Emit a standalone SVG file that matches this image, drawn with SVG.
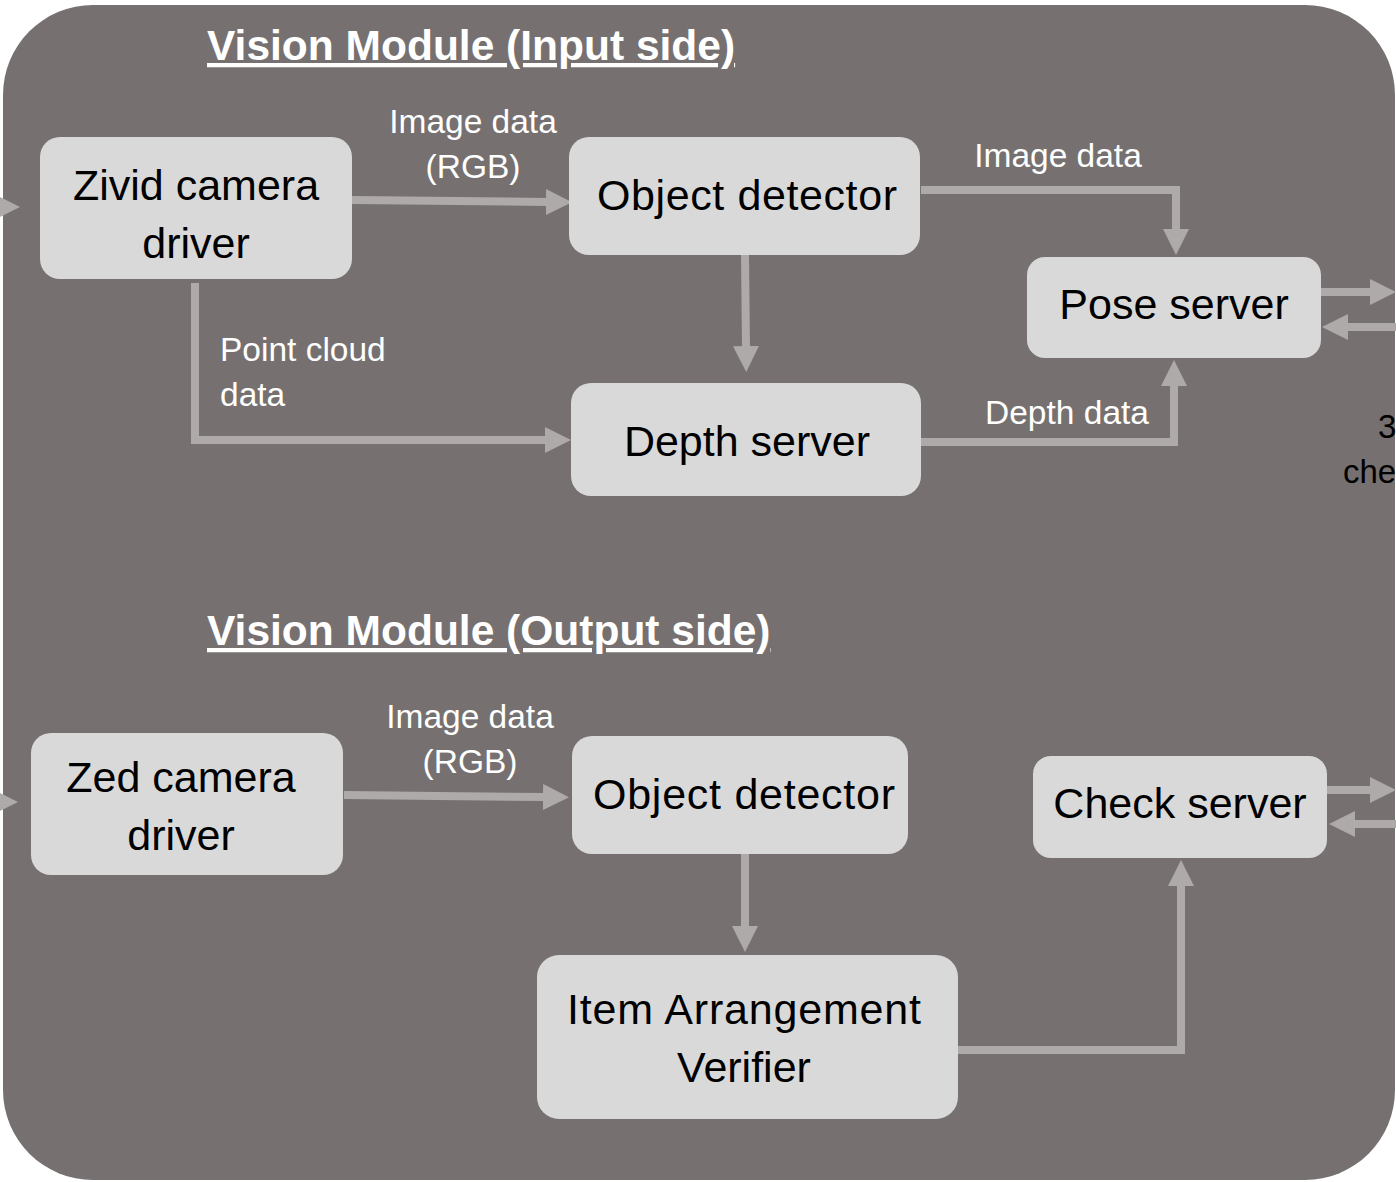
<svg xmlns="http://www.w3.org/2000/svg" width="1396" height="1182" viewBox="0 0 1396 1182">
  <style>
    .panel { fill: #767170; }
    .box { fill: #d9d9d9; }
    .node-text { font-family: "Liberation Sans", Arial, sans-serif; font-size: 43px; fill: #000000; text-anchor: middle; }
    .title { font-family: "Liberation Sans", Arial, sans-serif; font-size: 42.5px; font-weight: bold; fill: #ffffff; text-decoration: underline; text-decoration-skip-ink: none; }
    .label { font-family: "Liberation Sans", Arial, sans-serif; font-size: 33.5px; fill: #ffffff; }
    .edge-text { font-family: "Liberation Sans", Arial, sans-serif; font-size: 33px; fill: #000000; }
    .conn { fill: none; stroke: #aeaaaa; stroke-width: 8; }
  </style>
  <defs>
    <marker id="arrow" markerUnits="userSpaceOnUse" markerWidth="26" markerHeight="26" refX="2" refY="13" orient="auto">
      <path d="M0,0 L26,13 L0,26 Z" fill="#aeaaaa"/>
    </marker>
  </defs>

  <rect width="1396" height="1182" fill="#ffffff"/>
  <rect class="panel" x="3" y="5" width="1392" height="1175" rx="90" ry="90"/>

  <!-- section titles -->
  <text class="title" x="207" y="60">Vision Module (Input side)</text>
  <text class="title" x="207" y="645">Vision Module (Output side)</text>

  <!-- connectors -->
  <g id="connectors">
    <path class="conn" d="M -10 207 H -4" marker-end="url(#arrow)"/>
    <path class="conn" d="M 352 200 L 548 202" marker-end="url(#arrow)"/>
    <path class="conn" d="M 921 190 H 1176 V 231" marker-end="url(#arrow)"/>
    <path class="conn" d="M 745 255 L 746 348" marker-end="url(#arrow)"/>
    <path class="conn" d="M 195 283 V 440 H 547" marker-end="url(#arrow)"/>
    <path class="conn" d="M 921 442 H 1174 V 384" marker-end="url(#arrow)"/>
    <path class="conn" d="M 1321 292 H 1372" marker-end="url(#arrow)"/>
    <path class="conn" d="M 1400 327 H 1346" marker-end="url(#arrow)"/>
    <path class="conn" d="M -10 802 H -6" marker-end="url(#arrow)"/>
    <path class="conn" d="M 344 795 L 545 797" marker-end="url(#arrow)"/>
    <path class="conn" d="M 745 854 V 928" marker-end="url(#arrow)"/>
    <path class="conn" d="M 958 1050 H 1181 V 884" marker-end="url(#arrow)"/>
    <path class="conn" d="M 1327 790 H 1372" marker-end="url(#arrow)"/>
    <path class="conn" d="M 1400 824 H 1353" marker-end="url(#arrow)"/>

    <!-- connector labels -->
    <text class="label" x="473" y="133" text-anchor="middle">Image data</text>
    <text class="label" x="473" y="178" text-anchor="middle">(RGB)</text>
    <text class="label" x="1058" y="167" text-anchor="middle">Image data</text>
    <text class="label" x="220" y="361">Point cloud</text>
    <text class="label" x="220" y="406">data</text>
    <text class="label" x="1067" y="424" text-anchor="middle">Depth data</text>
    <text class="label" x="470" y="728" text-anchor="middle">Image data</text>
    <text class="label" x="470" y="773" text-anchor="middle">(RGB)</text>
    <text class="edge-text" x="1378" y="438">3</text>
    <text class="edge-text" x="1343" y="483">che</text>
  </g>

  <!-- input side -->
  <g id="zivid-driver">
    <rect class="box" x="40" y="137" width="312" height="142" rx="20"/>
    <text class="node-text" x="196" y="200">Zivid camera</text>
    <text class="node-text" x="196" y="258">driver</text>
  </g>
  <g id="object-detector-in">
    <rect class="box" x="569" y="137" width="351" height="118" rx="20"/>
    <text class="node-text" x="747" y="210" textLength="300" lengthAdjust="spacing">Object detector</text>
  </g>
  <g id="pose-server">
    <rect class="box" x="1027" y="257" width="294" height="101" rx="18"/>
    <text class="node-text" x="1174" y="319">Pose server</text>
  </g>
  <g id="depth-server">
    <rect class="box" x="571" y="383" width="350" height="113" rx="20"/>
    <text class="node-text" x="747" y="456">Depth server</text>
  </g>

  <!-- output side -->
  <g id="zed-driver">
    <rect class="box" x="31" y="733" width="312" height="142" rx="20"/>
    <text class="node-text" x="181" y="792">Zed camera</text>
    <text class="node-text" x="181" y="850">driver</text>
  </g>
  <g id="object-detector-out">
    <rect class="box" x="572" y="736" width="336" height="118" rx="20"/>
    <text class="node-text" x="744" y="809" textLength="302" lengthAdjust="spacing">Object detector</text>
  </g>
  <g id="check-server">
    <rect class="box" x="1033" y="756" width="294" height="102" rx="18"/>
    <text class="node-text" x="1180" y="818">Check server</text>
  </g>
  <g id="arrangement-verifier">
    <rect class="box" x="537" y="955" width="421" height="164" rx="22"/>
    <text class="node-text" x="744" y="1024" textLength="354" lengthAdjust="spacing">Item Arrangement</text>
    <text class="node-text" x="744" y="1082">Verifier</text>
  </g>
</svg>
